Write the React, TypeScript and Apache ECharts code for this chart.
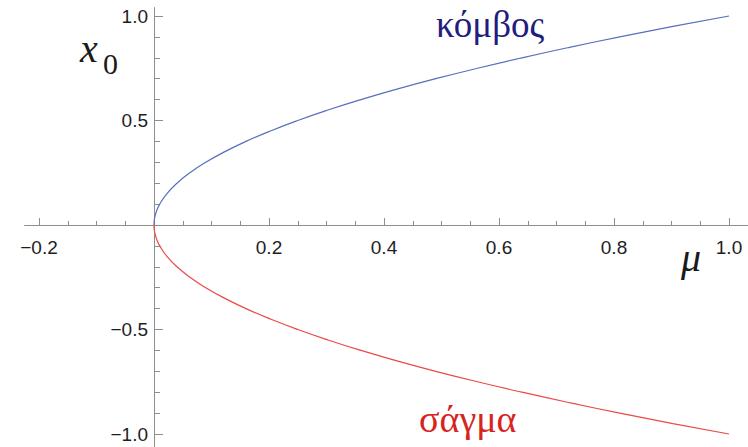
import React, { useEffect, useRef } from "react";
import * as echarts from "echarts";

// Control parameter μ and the two fixed-point branches x0(μ)
const muValues = [
  0, 0.0006, 0.0025, 0.0056, 0.01, 0.0225, 0.04, 0.0625, 0.09, 0.1225, 0.16,
  0.2025, 0.25, 0.3025, 0.36, 0.4225, 0.49, 0.5625, 0.64, 0.7225, 0.81, 0.9025, 1.0,
];
const nodeBranch = [
  0, 0.025, 0.05, 0.075, 0.1, 0.15, 0.2, 0.25, 0.3, 0.35, 0.4, 0.45, 0.5, 0.55,
  0.6, 0.65, 0.7, 0.75, 0.8, 0.85, 0.9, 0.95, 1.0,
];
const saddleBranch = [
  0, -0.025, -0.05, -0.075, -0.1, -0.15, -0.2, -0.25, -0.3, -0.35, -0.4, -0.45,
  -0.5, -0.55, -0.6, -0.65, -0.7, -0.75, -0.8, -0.85, -0.9, -0.95, -1.0,
];

// Labelled ticks (the origin carries no label)
const xTickLabels = [-0.2, 0.2, 0.4, 0.6, 0.8, 1.0];
const yTickLabels = [-1.0, -0.5, 0.5, 1.0];

const nodeName = "κόμβος";
const saddleName = "σάγμα";

const AXIS_GRAY = "#8f8f8f";
const LABEL_COLOR = "#1e1e1e";
const SANS = "'Liberation Sans', Arial, Helvetica, sans-serif";
const SERIF = "'Liberation Serif', 'Times New Roman', 'DejaVu Serif', serif";

const fmt = (list: number[]) => (v: number) => {
  const hit = list.some((t) => Math.abs(t - v) < 1e-9);
  if (!hit) return "";
  const s = Math.abs(v).toFixed(1);
  return v < 0 ? "\u2212" + s : s;
};

export default function App() {
  const ref = useRef<HTMLDivElement>(null);

  useEffect(() => {
    if (!ref.current) return;
    const chart = echarts.init(ref.current, undefined, { renderer: "svg" });

    const nodeData = muValues.map((m, i) => [m, nodeBranch[i]]);
    const saddleData = muValues.map((m, i) => [m, saddleBranch[i]]);

    const hiddenAxis = (gridIndex: number) => ({
      type: "value",
      gridIndex,
      min: 0,
      max: 1,
      show: false,
    });

    chart.setOption({
      animation: false,
      backgroundColor: "#ffffff",
      grid: [
        // μ ticks: bottom edge of this grid sits on x0 = 0
        { left: 39, width: 690, top: 16, height: 209, containLabel: false, outerBoundsMode: "none" },
        // x0 ticks and the curves: left edge of this grid sits on μ = 0
        { left: 154, width: 575, top: 16, height: 418, containLabel: false, outerBoundsMode: "none" },
        // the two crossing axis lines, a little longer than the ticked range
        { left: 24.6, width: 724.4, top: 7.6, height: 439, containLabel: false, outerBoundsMode: "none" },
      ],
      xAxis: [
        {
          type: "value",
          gridIndex: 0,
          position: "bottom",
          min: -0.2,
          max: 1.0,
          interval: 0.2,
          axisLine: { show: false, onZero: false },
          axisTick: { show: true, inside: true, length: 7, lineStyle: { color: AXIS_GRAY, width: 1 } },
          minorTick: { show: true, splitNumber: 4, length: 4, lineStyle: { color: AXIS_GRAY, width: 1 } },
          splitLine: { show: false },
          axisLabel: {
            show: true,
            margin: 13,
            color: LABEL_COLOR,
            fontFamily: SANS,
            fontSize: 19,
            formatter: fmt(xTickLabels),
            showMinLabel: true,
            showMaxLabel: true,
          },
        },
        hiddenAxis(1),
        {
          type: "value",
          gridIndex: 2,
          min: -0.225,
          max: 1.035,
          axisLine: { show: true, onZero: true, lineStyle: { color: AXIS_GRAY, width: 1 } },
          axisTick: { show: false },
          axisLabel: { show: false },
          splitLine: { show: false },
        },
      ],
      yAxis: [
        hiddenAxis(0),
        {
          type: "value",
          gridIndex: 1,
          position: "left",
          min: -1,
          max: 1,
          interval: 0.5,
          axisLine: { show: false, onZero: false },
          axisTick: { show: true, inside: true, length: 9, lineStyle: { color: AXIS_GRAY, width: 1 } },
          minorTick: { show: true, splitNumber: 5, length: 6, lineStyle: { color: AXIS_GRAY, width: 1 } },
          splitLine: { show: false },
          axisLabel: {
            show: true,
            margin: 6,
            color: LABEL_COLOR,
            fontFamily: SANS,
            fontSize: 19,
            formatter: fmt(yTickLabels),
            showMinLabel: true,
            showMaxLabel: true,
          },
        },
        {
          type: "value",
          gridIndex: 2,
          min: -1.06,
          max: 1.04,
          axisLine: { show: true, onZero: true, lineStyle: { color: AXIS_GRAY, width: 1 } },
          axisTick: { show: false },
          axisLabel: { show: false },
          splitLine: { show: false },
        },
      ],
      series: [
        {
          name: nodeName,
          type: "line",
          xAxisIndex: 1,
          yAxisIndex: 1,
          data: nodeData,
          showSymbol: false,
          smooth: true,
          clip: false,
          lineStyle: { color: "#5670bd", width: 1.2 },
        },
        {
          name: saddleName,
          type: "line",
          xAxisIndex: 1,
          yAxisIndex: 1,
          data: saddleData,
          showSymbol: false,
          smooth: true,
          clip: false,
          lineStyle: { color: "#ea4a44", width: 1.2 },
        },
      ],
      graphic: [
        {
          type: "text",
          left: 80,
          top: 28,
          style: { text: "x", font: `italic 40px ${SERIF}`, fill: "#1a1a1a" },
        },
        {
          type: "text",
          left: 103,
          top: 48,
          style: { text: "0", font: `30px ${SERIF}`, fill: "#1a1a1a" },
        },
        {
          type: "text",
          left: 681,
          top: 237,
          style: { text: "μ", font: `italic 40px ${SERIF}`, fill: "#1a1a1a" },
        },
        {
          type: "text",
          left: 436,
          top: 6,
          style: { text: nodeName, font: `37px ${SERIF}`, fill: "#221c7c" },
        },
        {
          type: "text",
          left: 419,
          top: 400,
          style: { text: saddleName, font: `38px ${SERIF}`, fill: "#d8231e" },
        },
      ],
    });

    return () => chart.dispose();
  }, []);

  return (
    <div
      ref={ref}
      style={{ position: "fixed", left: 0, top: 0, width: 748, height: 447 }}
    />
  );
}
